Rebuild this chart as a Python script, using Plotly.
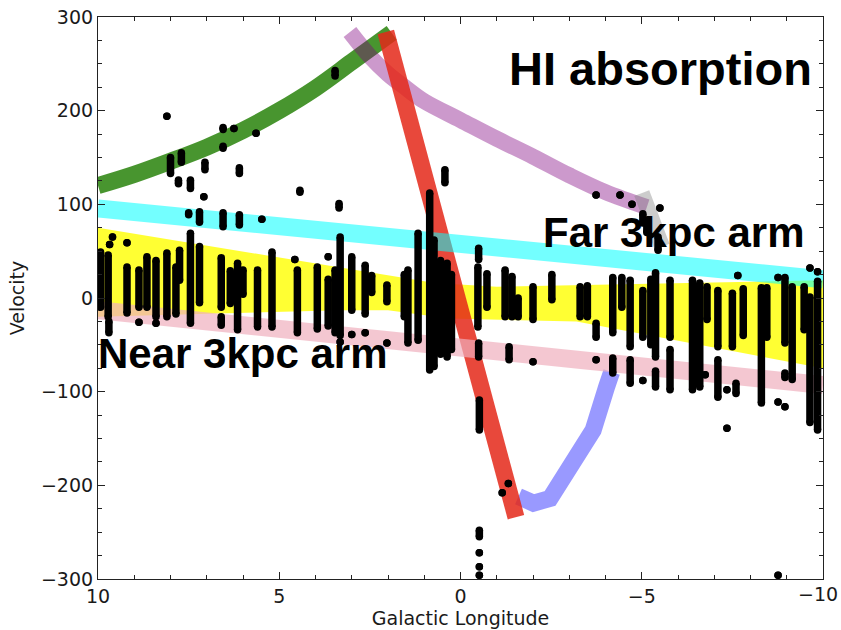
import plotly.graph_objects as go

# ---------------- data ----------------
# model curves (Galactic longitude, velocity)
green_l = [10, 9, 8, 7, 6, 5, 4, 3, 1.9]
green_v = [120, 132, 146, 161, 179, 200, 224, 252, 283]

purple_l = [3.05, 2.5, 2.0, 1.5, 1.0, 0, -1, -2, -3, -4, -5.14]
purple_v = [284, 258, 239, 224, 210, 190, 170, 151, 131, 113, 97]

gray_l = [-5.0, -5.56]
gray_v = [112, 55]

red_l = [2.06, -1.53]
red_v = [284, -234]

blue_l = [-1.6, -2.01, -2.47, -3.25, -3.66, -4.03, -4.17]
blue_v = [-212, -219, -214, -164, -141, -95, -79]

cyan_l = [10, -10]
cyan_v = [95.5, 20]

pink_l = [10, -10]
pink_v = [-13, -93]

yellow_top_l = [10, 0.7, -1, -10]
yellow_top_v = [75, 16, 12, 19]
yellow_bot_l = [10, 3.3, 2, 0.3, -3.2, -10]
yellow_bot_v = [-20, -13, -13, -22, -25, -75]

# HI absorption detections: vertical runs of points (longitude, top velocity, bottom velocity)
strand_l = [9.93, 9.72, 9.70, 9.68, 9.60, 9.20, 9.20, 8.87, 8.87, 8.65,
            8.40, 8.40, 8.10, 7.85, 7.75, 7.45, 7.50, 7.20, 7.20, 7.08,
            8.10, 8.00, 7.70, 7.78, 7.45, 7.05, 6.55, 6.55, 6.25, 6.10,
            6.55, 6.10, 5.64, 5.48, 4.43, 3.46, 3.35, 6.60, 6.60, 6.35,
            6.15, 6.00, 5.60, 5.20, 4.57, 4.50, 3.95, 3.65, 3.65, 3.46,
            3.32, 3.32, 3.00, 3.00, 2.63, 2.63, 2.45, 2.03, 2.03, 1.45,
            1.55, 1.17, 0.85, 0.73, 0.55, 0.37, 0.25, 0.43, -0.50, -0.48,
            -0.50, -0.52, -0.52, -0.52, -0.52, -0.52, -0.73, -1.23, -1.34, -1.42,
            -1.59, -2.00, -2.00, -2.52, -3.30, -1.15, -1.32, -3.74, -4.40, -4.73,
            -5.03, -5.14, -5.50, -5.45, -3.50, -3.74, -3.74, -4.20, -4.20, -4.45,
            -4.68, -4.68, -5.03, -5.03, -5.38, -5.38, -5.25, -5.78, -5.78, -6.40,
            -6.60, -6.80, -6.75, -7.10, -7.10, -7.35, -7.35, -7.50, -7.60, -7.65,
            -7.80, -8.30, -8.45, -8.76, -8.76, -8.95, -8.95, -8.95, -9.15, -9.48,
            -9.64, -9.64, -9.85, -9.85, -8.76]
strand_top = [49, 46, -25, 57, 65, 59, 33, 30, -26, 44,
              40, -27, 48, 33, 51, 69, 91, 55, 92, 108,
              194, 150, 155, 126, 126, 145, 182, 162, 181, 139,
              91, 89, 176, 84, 115, 243, 101, 43, -20, 29,
              37, 30, 30, 49, 41, 30, 33, 44, 20, 30,
              65, -47, 44, -39, 35, -37, 24, 14, -48, 30,
              25, 69, 112, 62, 40, 37, 25, 137, 53, 33,
              -48, -109, -248, -272, -287, -296, 26, 30, -52, 23,
              0, 12, -68, 25, 12, -208, -198, 110, 110, 100,
              90, 83, 96, 65, 13, -27, -66, 22, -64, 22,
              19, -66, 8, -88, 27, -78, 20, 19, -55, 19,
              16, 12, -82, 8, -66, -98, -139, 5, -91, 24,
              10, 11, 11, 22, -111, 22, -80, -116, 12, 12,
              32, 1, 28, 18, -296]
strand_bot = [-10, -20, -37, 57, 65, 59, -16, -10, -26, -10,
              -20, -27, -20, -17, 19, -27, 89, -5, 81, 108,
              194, 133, 145, 122, 117, 137, 180, 160, 181, 133,
              76, 78, 176, 84, 113, 237, 96, -10, -29, -6,
              -34, 4, -31, -31, 41, -37, -33, 44, -30, -37,
              -40, -47, -13, -39, -17, -37, 6, -4, -48, -48,
              -20, -45, -77, -73, -60, -63, -55, 123, 41, -31,
              -63, -141, -255, -272, -287, -296, -10, -20, -66, -20,
              -20, -23, -68, -2, -20, -208, -198, 110, 110, 100,
              80, 70, 96, 51, -20, -42, -66, -37, -80, -10,
              -52, -91, -42, -88, -63, -95, -50, -42, -98, -98,
              -95, -23, -82, -52, -106, -98, -139, -52, -102, 24,
              -40, -112, -42, 22, -111, -48, -85, -116, -87, -34,
              32, -133, 28, -141, -296]

x_ticks = [10, 5, 0, -5, -10]
x_tick_text = ["10", "5", "0", "\u22125", ""]   # last label drawn separately so it stays inside the page
x_last_label = "\u221210"
y_ticks = [-300, -200, -100, 0, 100, 200, 300]
x_range = [10, -10]
y_range = [-300, 300]

# ---------------- figure ----------------
fig = go.Figure()

# yellow band (filled polygon)
fig.add_trace(go.Scatter(
    x=yellow_top_l + yellow_bot_l[::-1],
    y=yellow_top_v + yellow_bot_v[::-1],
    fill="toself", fillcolor="rgba(255,255,0,0.8)",
    mode="lines", line=dict(width=0), hoverinfo="skip"))


def band(xs, ys, color, width, shape="linear"):
    fig.add_trace(go.Scatter(x=xs, y=ys, mode="lines",
                             line=dict(color=color, width=width, shape=shape),
                             hoverinfo="skip"))


band(green_l, green_v, "rgba(40,130,10,0.85)", 17, "spline")
band(purple_l, purple_v, "rgba(128,0,128,0.4)", 16, "spline")
band(blue_l, blue_v, "rgba(0,0,255,0.4)", 17)
band(red_l, red_v, "rgba(228,40,25,0.85)", 17)
band(gray_l, gray_v, "rgba(128,128,128,0.4)", 16)
band(cyan_l, cyan_v, "rgba(0,255,255,0.55)", 18)
band(pink_l, pink_v, "rgba(240,175,190,0.7)", 18)

# detections
sx, sy = [], []
for l, t, b in zip(strand_l, strand_top, strand_bot):
    sx += [l, l, None]
    sy += [t, b, None]
fig.add_trace(go.Scatter(x=sx, y=sy, mode="lines+markers",
                         line=dict(color="black", width=7.5),
                         marker=dict(color="black", size=7.5),
                         hoverinfo="skip"))

# invisible trace on the mirror axes (top / right) so their ticks are drawn
fig.add_trace(go.Scatter(x=[x_range[0]], y=[y_range[0]], xaxis="x2", yaxis="y2",
                         mode="markers", marker=dict(opacity=0), hoverinfo="skip"))

tick_font = dict(family="DejaVu Sans", size=19, color="#1a1a1a")
title_font = dict(family="DejaVu Sans", size=19, color="#1a1a1a")
axis_common = dict(showgrid=False, zeroline=False, showline=True,
                   linecolor="#222", linewidth=1.2, mirror=False,
                   ticks="inside", ticklen=7, tickwidth=1, tickcolor="#222",
                   tickfont=tick_font, automargin=False, ticklabeloverflow="allow")

x_minor = dict(ticks="inside", dtick=1, tick0=0, ticklen=4, tickcolor="#222", tickwidth=1)
y_minor = dict(ticks="inside", dtick=25, tick0=0, ticklen=4, tickcolor="#222", tickwidth=1)

fig.update_layout(
    xaxis=dict(range=x_range, tickvals=x_ticks, ticktext=x_tick_text, minor=x_minor,
               title=dict(text="Galactic Longitude", standoff=4, font=title_font),
               **axis_common),
    yaxis=dict(range=y_range, tickvals=y_ticks, minor=y_minor,
               title=dict(text="Velocity", standoff=11, font=title_font),
               **axis_common),
    xaxis2=dict(range=x_range, tickvals=x_ticks, minor=x_minor, overlaying="x",
                side="top", showticklabels=False, showgrid=False, zeroline=False,
                showline=True, linecolor="#222", linewidth=1.2, ticks="inside",
                ticklen=7, tickwidth=1, tickcolor="#222"),
    yaxis2=dict(range=y_range, tickvals=y_ticks, minor=y_minor, overlaying="y",
                side="right", showticklabels=False, showgrid=False, zeroline=False,
                showline=True, linecolor="#222", linewidth=1.2, ticks="inside",
                ticklen=7, tickwidth=1, tickcolor="#222"),
)

# label of the last x tick, kept just inside the right page edge
fig.add_annotation(text=x_last_label, xref="paper", yref="paper",
                   x=1.0225, y=-0.027, xanchor="right", yanchor="middle",
                   showarrow=False, borderpad=0, font=tick_font)

ann_font = dict(family="Liberation Sans, Arial, sans-serif", color="black")
fig.add_annotation(text="<b>HI absorption</b>", xref="paper", yref="paper",
                   x=0.987, y=0.9075, xanchor="right", yanchor="middle",
                   showarrow=False, font=dict(size=47, **ann_font))
fig.add_annotation(text="<b>Far 3kpc arm</b>", xref="paper", yref="paper",
                   x=0.977, y=0.6157, xanchor="right", yanchor="middle",
                   showarrow=False, font=dict(size=42, **ann_font))
fig.add_annotation(text="<b>Near 3kpc arm</b>", xref="paper", yref="paper",
                   x=-0.003, y=0.402, xanchor="left", yanchor="middle",
                   showarrow=False, font=dict(size=42, **ann_font))

fig.update_layout(width=841, height=630, showlegend=False,
                  margin=dict(l=98, r=18, t=17, b=51),
                  plot_bgcolor="white", paper_bgcolor="white")

fig.write_html("out.html")
